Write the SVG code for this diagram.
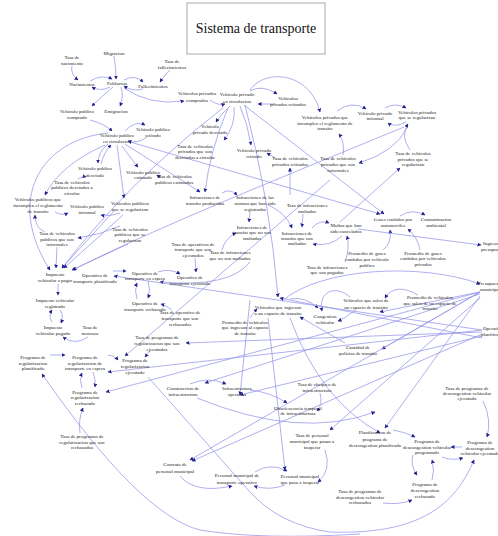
<svg xmlns="http://www.w3.org/2000/svg" width="498" height="536" viewBox="0 0 498 536">
<defs>
<marker id="ah" markerWidth="4" markerHeight="4" refX="3.5" refY="2" orient="auto" markerUnits="userSpaceOnUse">
<path d="M0,0 L4,2 L0,4 Z" fill="#23238f"/>
</marker>
<style>
.t{font-family:"Liberation Serif","Times New Roman",serif;font-size:5px;fill:#222;text-anchor:middle}
.s{text-anchor:start}
.c path{fill:none;stroke:#9494ea;stroke-width:0.75;marker-end:url(#ah)}
</style>
</defs>
<rect width="498" height="536" fill="#fff"/>

<!-- title -->
<g id="title">
<rect x="187" y="3" width="138" height="51" fill="#fff" stroke="#aaa" stroke-width="1"/>
<text x="256" y="33" style="font-family:'Liberation Serif','Times New Roman',serif;font-size:14px;fill:#111;text-anchor:middle">Sistema de transporte</text>
</g>

<!-- connectors -->
<g id="connectors" class="c">
<path d="M72,66 Q70,74 78,80"/>
<path d="M90,81 Q102,74 112,79"/>
<path d="M110,87 Q100,92 92,87"/>
<path d="M114,56 Q116,68 116,79"/>
<path d="M124,80 Q135,74 143,82"/>
<path d="M143,89 Q133,92 124,86"/>
<path d="M170,70 Q164,76 160,82"/>
<path d="M121,87 Q124,97 120,106"/>
<path d="M113,87 Q100,98 92,106"/>
<path d="M124,88 Q150,106 184,101"/>
<path d="M90,120 Q105,124 112,131"/>
<path d="M210,100 Q218,106 225,104"/>
<path d="M250,91 Q262,84 277,94"/>
<path d="M275,104 L258,104"/>
<path d="M250,90 C265,68 310,72 320,112"/>
<path d="M337,111 Q352,100 366,109"/>
<path d="M385,108 Q395,102 406,108"/>
<path d="M406,122 Q395,128 388,123"/>
<path d="M410,150 Q400,136 408,124"/>
<path d="M343,155 Q345,142 339,134"/>
<path d="M407,128 Q395,152 359,163"/>
<path d="M340,222 L400,168"/>
<path d="M275,158 L267,153"/>
<path d="M290,195 L290,168"/>
<path d="M230,106 Q222,113 216,122"/>
<path d="M240,106 Q248,125 251,145"/>
<path d="M234,107 Q236,125 224,140"/>
<path d="M228,108 Q210,150 205,192"/>
<path d="M245,105 Q270,200 278,297"/>
<path d="M244,105 L384,214"/>
<path d="M130,142 L380,214"/>
<path d="M223,108 Q130,180 62,268"/>
<path d="M404,127 C300,170 150,230 73,270"/>
<path d="M108,133 C40,140 5,200 50,270"/>
<path d="M125,131 Q135,120 145,125"/>
<path d="M147,137 Q138,144 128,141"/>
<path d="M108,144 Q98,152 98,163"/>
<path d="M101,164 Q104,152 111,145"/>
<path d="M78,179 Q82,176 86,177"/>
<path d="M105,145 Q60,165 45,195"/>
<path d="M125,144 L200,192"/>
<path d="M117,145 L124,198"/>
<path d="M122,146 Q132,160 138,167"/>
<path d="M160,177 L157,175"/>
<path d="M55,212 Q62,216 68,213"/>
<path d="M120,213 Q110,217 101,215"/>
<path d="M45,232 Q35,228 35,215"/>
<path d="M120,226 Q100,235 78,238"/>
<path d="M57,247 L56,268"/>
<path d="M113,212 L62,268"/>
<path d="M123,215 L64,268"/>
<path d="M128,244 L72,270"/>
<path d="M58,284 L58,295"/>
<path d="M52,322 Q48,316 52,310"/>
<path d="M60,310 Q64,316 61,323"/>
<path d="M88,337 Q75,346 63,337"/>
<path d="M113,271 L126,271"/>
<path d="M158,272 Q170,268 180,274"/>
<path d="M250,262 Q230,288 160,282"/>
<path d="M148,281 Q151,290 148,298"/>
<path d="M137,299 Q134,290 137,283"/>
<path d="M172,310 Q167,306 161,304"/>
<path d="M195,258 L196,272"/>
<path d="M222,193 Q230,188 237,195"/>
<path d="M250,212 L249,222"/>
<path d="M268,205 Q285,212 292,228"/>
<path d="M303,214 L302,227"/>
<path d="M312,228 Q320,219 329,223"/>
<path d="M345,262 Q350,248 347,236"/>
<path d="M342,236 Q330,247 313,244"/>
<path d="M222,250 Q225,238 236,233"/>
<path d="M400,216 Q412,208 425,215"/>
<path d="M383,250 Q392,243 390,230"/>
<path d="M420,250 Q418,238 408,229"/>
<path d="M358,229 L481,245"/>
<path d="M282,301 C320,268 420,262 480,284"/>
<path d="M290,299 Q305,296 318,308"/>
<path d="M350,297 C335,284 318,292 322,311"/>
<path d="M355,310 Q346,318 338,321"/>
<path d="M418,295 Q395,282 385,298"/>
<path d="M250,318 Q253,313 257,309"/>
<path d="M345,343 L300,317"/>
<path d="M480,292 L380,312"/>
<path d="M480,292 L382,349"/>
<path d="M480,294 L205,383"/>
<path d="M480,292 L190,460"/>
<path d="M482,334 L192,461"/>
<path d="M480,296 L385,428"/>
<path d="M480,292 L106,392"/>
<path d="M482,330 L108,372"/>
<path d="M482,330 L114,276"/>
<path d="M482,336 L240,395"/>
<path d="M482,332 L186,343"/>
<path d="M480,298 L330,430"/>
<path d="M482,338 L280,298"/>
<path d="M50,355 L65,355"/>
<path d="M108,355 Q114,355 118,360"/>
<path d="M93,372 Q96,380 95,387"/>
<path d="M82,388 Q79,380 82,373"/>
<path d="M80,433 Q78,420 83,408"/>
<path d="M150,351 L145,357"/>
<path d="M190,384 Q208,376 226,384"/>
<path d="M250,390 Q270,392 287,403"/>
<path d="M320,393 Q323,405 317,411"/>
<path d="M197,398 Q300,440 375,412"/>
<path d="M180,476 Q195,494 232,486"/>
<path d="M255,472 Q270,462 287,471"/>
<path d="M285,485 Q270,491 254,486"/>
<path d="M325,450 Q332,470 318,482"/>
<path d="M393,430 Q405,432 415,437"/>
<path d="M462,447 L451,447"/>
<path d="M442,457 Q452,461 463,458"/>
<path d="M413,455 Q410,465 417,475"/>
<path d="M432,480 Q435,470 432,460"/>
<path d="M383,503 Q400,505 412,500"/>
<path d="M483,401 Q492,420 487,437"/>
<path d="M148,377 L250,492 Q280,525 330,532 C420,535 455,505 474,460"/>
<path d="M360,534 Q260,540 200,530 Q140,515 42,374"/>
<path d="M250,300 L240,395"/>
<path d="M268,318 L285,470"/>
<path d="M290,318 Q320,400 380,433"/>
<path d="M330,180 L125,356"/>
</g>

<!-- nodes -->
<g id="tasa_nacimiento"><text class="t"><tspan x="72" y="59">Tasa de</tspan><tspan x="72" y="65">nacimiento</tspan></text></g>
<g id="migracion"><text class="t" x="114" y="55">Migracion</text></g>
<g id="nacimientos"><text class="t" x="82" y="86">Nacimientos</text></g>
<g id="poblacion"><text class="t" x="117" y="85">Poblacion</text></g>
<g id="fallecimientos"><text class="t" x="153" y="88">Fallecimientos</text></g>
<g id="tasa_fallecimientos"><text class="t"><tspan x="172" y="63">Tasa de</tspan><tspan x="172" y="69">fallecimientos</tspan></text></g>
<g id="emigracion"><text class="t" x="116" y="113">Emigracion</text></g>
<g id="vpub_comprado"><text class="t"><tspan x="77" y="113">Vehiculo publico</tspan><tspan x="77" y="119">comprado</tspan></text></g>
<g id="vpriv_comprados"><text class="t"><tspan x="197" y="95">Vehiculos privados</tspan><tspan x="197" y="102">comprados</tspan></text></g>
<g id="vpriv_circulacion"><text class="t"><tspan x="237" y="96">Vehiculo privado</tspan><tspan x="237" y="103">en circulacion</tspan></text></g>
<g id="vpriv_retirados"><text class="t"><tspan x="288" y="100">Vehiculos</tspan><tspan x="288" y="106">privados retirados</tspan></text></g>
<g id="vpriv_incumplen"><text class="t"><tspan x="325" y="119">Vehiculos privados que</tspan><tspan x="325" y="125">incumplen el reglamento de</tspan><tspan x="325" y="130">transito</tspan></text></g>
<g id="vpriv_informal"><text class="t"><tspan x="375" y="115">Vehiculo privado</tspan><tspan x="375" y="120">informal</tspan></text></g>
<g id="vpriv_regularizan"><text class="t"><tspan x="417" y="114">Vehiculos privados</tspan><tspan x="417" y="119">que se regularizan</tspan></text></g>
<g id="tasa_vpriv_regularizan"><text class="t"><tspan x="413" y="155">Tasa de vehiculos</tspan><tspan x="413" y="161">privados que se</tspan><tspan x="413" y="166">regularizan</tspan></text></g>
<g id="tasa_vpriv_informales"><text class="t"><tspan x="338" y="160">Tasa de vehiculos</tspan><tspan x="338" y="166">privados que son</tspan><tspan x="338" y="172">informales</tspan></text></g>
<g id="tasa_vpriv_retirados"><text class="t"><tspan x="290" y="160">Tasa de vehiculos</tspan><tspan x="290" y="166">privados retirados</tspan></text></g>
<g id="vpriv_retirado"><text class="t"><tspan x="254" y="152">Vehiculo privado</tspan><tspan x="254" y="158">retirado</tspan></text></g>
<g id="vpriv_desviado"><text class="t"><tspan x="210" y="128">Vehiculo</tspan><tspan x="210" y="134">privado desviado</tspan></text></g>
<g id="tasa_vpriv_desviados"><text class="t"><tspan x="195" y="148">Tasa de vehiculos</tspan><tspan x="195" y="153">privados que son</tspan><tspan x="195" y="159">desviados a circular</tspan></text></g>
<g id="vpub_retirado"><text class="t"><tspan x="153" y="131">Vehiculo publico</tspan><tspan x="153" y="137">retirado</tspan></text></g>
<g id="vpub_circulacion"><text class="t"><tspan x="117" y="137">Vehiculo publico</tspan><tspan x="117" y="143">en circulacion</tspan></text></g>
<g id="vpub_desviado"><text class="t"><tspan x="95" y="170">Vehiculo publico</tspan><tspan x="95" y="177">desviado</tspan></text></g>
<g id="tasa_vpub_desviados"><text class="t"><tspan x="72" y="184">Tasa de vehiculos</tspan><tspan x="72" y="189">publicos desviados a</tspan><tspan x="72" y="195">circular</tspan></text></g>
<g id="vpub_estimado"><text class="t"><tspan x="143" y="174">Vehiculo publico</tspan><tspan x="143" y="179">estimado</tspan></text></g>
<g id="tasa_vpub_estimados"><text class="t"><tspan x="174" y="178">Tasa de vehiculos</tspan><tspan x="174" y="184">publicos estimados</tspan></text></g>
<g id="vpub_incumplen"><text class="t"><tspan x="38" y="201">Vehiculos publicos que</tspan><tspan x="38" y="207">incumplen el reglamento</tspan><tspan x="38" y="213">de transito</tspan></text></g>
<g id="vpub_informal"><text class="t"><tspan x="87" y="208">Vehiculo publico</tspan><tspan x="87" y="214">informal</tspan></text></g>
<g id="vpub_regularizan"><text class="t"><tspan x="130" y="205">Vehiculos publicos</tspan><tspan x="130" y="211">que se regularizan</tspan></text></g>
<g id="tasa_vpub_informales"><text class="t"><tspan x="57" y="235">Tasa de vehiculos</tspan><tspan x="57" y="241">publicos que son</tspan><tspan x="57" y="246">informales</tspan></text></g>
<g id="tasa_vpub_regularizan"><text class="t"><tspan x="130" y="231">Tasa de vehiculos</tspan><tspan x="130" y="236">publicos que se</tspan><tspan x="130" y="242">regularizan</tspan></text></g>
<g id="infr_producidas"><text class="t"><tspan x="205" y="199">Infracciones de</tspan><tspan x="205" y="205">transito producidas</tspan></text></g>
<g id="infr_registradas"><text class="t"><tspan x="255" y="199">Infracciones de las</tspan><tspan x="255" y="205">normas que han sido</tspan><tspan x="255" y="211">registradas</tspan></text></g>
<g id="tasa_infr_multadas"><text class="t"><tspan x="307" y="207">Tasa de infracciones</tspan><tspan x="307" y="213">multadas</tspan></text></g>
<g id="infr_no_multadas"><text class="t"><tspan x="252" y="229">Infracciones de</tspan><tspan x="252" y="234">transito que no son</tspan><tspan x="252" y="240">multadas</tspan></text></g>
<g id="infr_multadas"><text class="t"><tspan x="297" y="235">Infracciones de</tspan><tspan x="297" y="240">transito que son</tspan><tspan x="297" y="245">multadas</tspan></text></g>
<g id="multas"><text class="t"><tspan x="346" y="227">Multas que han</tspan><tspan x="346" y="233">sido cancelados</tspan></text></g>
<g id="tasa_infr_no_multadas"><text class="t"><tspan x="230" y="254">Tasa de infracciones</tspan><tspan x="230" y="260">que no son multadas</tspan></text></g>
<g id="tasa_infr_pagadas"><text class="t"><tspan x="327" y="269">Tasa de infracciones</tspan><tspan x="327" y="274">que son pagadas</tspan></text></g>
<g id="gases"><text class="t"><tspan x="393" y="221">Gases emitidos por</tspan><tspan x="393" y="227">automoviles</tspan></text></g>
<g id="contaminacion"><text class="t"><tspan x="436" y="221">Contaminacion</tspan><tspan x="436" y="227">ambiental</tspan></text></g>
<g id="prom_gases_pub"><text class="t"><tspan x="367" y="255">Promedio de gases</tspan><tspan x="367" y="261">emitidos por vehiculo</tspan><tspan x="367" y="267">publico</tspan></text></g>
<g id="prom_gases_priv"><text class="t"><tspan x="423" y="255">Promedio de gases</tspan><tspan x="423" y="260">emitidos por vehiculos</tspan><tspan x="423" y="266">privados</tspan></text></g>
<g id="ingreso"><text class="t s"><tspan x="483" y="245">Ingreso</tspan><tspan x="481" y="251">presupuestal</tspan></text></g>
<g id="presupuesto"><text class="t s"><tspan x="478" y="285">Presupuesto</tspan><tspan x="480" y="291">municipal</tspan></text></g>
<g id="operativos"><text class="t s"><tspan x="483" y="330">Operativos</tspan><tspan x="481" y="336">planificados</tspan></text></g>
<g id="tasa_op_ejecutados"><text class="t"><tspan x="193" y="246">Tasa de operativos de</tspan><tspan x="193" y="251">transporte que son</tspan><tspan x="193" y="257">ejecutados</tspan></text></g>
<g id="op_ejecutado"><text class="t"><tspan x="190" y="279">Operativo de</tspan><tspan x="190" y="285">transporte ejecutado</tspan></text></g>
<g id="op_espera"><text class="t"><tspan x="145" y="275">Operativo de</tspan><tspan x="145" y="280">transporte en espera</tspan></text></g>
<g id="op_planificado"><text class="t"><tspan x="95" y="277">Operativo de</tspan><tspan x="95" y="283">transporte planificado</tspan></text></g>
<g id="op_rechazado"><text class="t"><tspan x="145" y="305">Operativo de</tspan><tspan x="145" y="311">transporte rechazado</tspan></text></g>
<g id="tasa_op_rechazados"><text class="t"><tspan x="180" y="314">Tasa de operativo de</tspan><tspan x="180" y="320">transporte que son</tspan><tspan x="180" y="326">rechazados</tspan></text></g>
<g id="imp_pagar"><text class="t"><tspan x="55" y="276">Impuesto</tspan><tspan x="55" y="282">vehicular a pagar</tspan></text></g>
<g id="imp_registrado"><text class="t"><tspan x="55" y="302">Impuesto vehicular</tspan><tspan x="55" y="308">registrado</tspan></text></g>
<g id="imp_pagado"><text class="t"><tspan x="53" y="329">Impuesto</tspan><tspan x="53" y="335">vehicular pagado</tspan></text></g>
<g id="tasa_morosos"><text class="t"><tspan x="90" y="329">Tasa de</tspan><tspan x="90" y="335">morosos</tspan></text></g>
<g id="prog_reg_planificado"><text class="t"><tspan x="33" y="359">Programa de</tspan><tspan x="33" y="365">regularizacion</tspan><tspan x="33" y="370">planificado</tspan></text></g>
<g id="prog_reg_espera"><text class="t"><tspan x="85" y="359">Programa de</tspan><tspan x="85" y="365">regularizacion de</tspan><tspan x="85" y="370">transporte en espera</tspan></text></g>
<g id="prog_reg_rechazado"><text class="t"><tspan x="85" y="394">Programa de</tspan><tspan x="85" y="399">regularizacion</tspan><tspan x="85" y="405">rechazado</tspan></text></g>
<g id="tasa_prog_reg_rechazados"><text class="t"><tspan x="82" y="438">Tasa de programas de</tspan><tspan x="82" y="444">regularizacion que son</tspan><tspan x="82" y="449">rechazados</tspan></text></g>
<g id="tasa_prog_reg_ejecutados"><text class="t"><tspan x="157" y="339">Tasa de programas de</tspan><tspan x="157" y="345">regularizacion que son</tspan><tspan x="157" y="351">ejecutados</tspan></text></g>
<g id="prog_reg_ejecutado"><text class="t"><tspan x="135" y="362">Programa de</tspan><tspan x="135" y="368">regularizacion</tspan><tspan x="135" y="374">ejecutado</tspan></text></g>
<g id="prom_v_ingresan"><text class="t"><tspan x="245" y="324">Promedio de vehiculos</tspan><tspan x="245" y="329">que ingresan al espacio</tspan><tspan x="245" y="335">de transito</tspan></text></g>
<g id="v_ingresan"><text class="t"><tspan x="278" y="309">Vehiculos que ingresan</tspan><tspan x="278" y="315">a un espacio de transito</tspan></text></g>
<g id="congestion"><text class="t"><tspan x="325" y="318">Congestion</tspan><tspan x="325" y="324">vehicular</tspan></text></g>
<g id="v_salen"><text class="t"><tspan x="366" y="302">Vehiculos que salen de</tspan><tspan x="366" y="309">un espacio de transito</tspan></text></g>
<g id="prom_v_salen"><text class="t"><tspan x="430" y="299">Promedio de vehiculos</tspan><tspan x="430" y="305">que salen de un espacio de</tspan><tspan x="430" y="310">transito</tspan></text></g>
<g id="policias"><text class="t"><tspan x="358" y="349">Cantidad de</tspan><tspan x="358" y="355">policias de transito</tspan></text></g>
<g id="construccion"><text class="t"><tspan x="183" y="390">Construccion de</tspan><tspan x="183" y="396">infraestructura</tspan></text></g>
<g id="infra_operativa"><text class="t"><tspan x="237" y="390">Infraestructura</tspan><tspan x="237" y="396">operativa</tspan></text></g>
<g id="tasa_chequeo"><text class="t"><tspan x="317" y="386">Tasa de chequeo de</tspan><tspan x="317" y="392">infraestructura</tspan></text></g>
<g id="obsolescencia"><text class="t"><tspan x="298" y="410">Obsolescencia temporal</tspan><tspan x="298" y="415">de infraestructura</tspan></text></g>
<g id="contrato"><text class="t"><tspan x="175" y="466">Contrato de</tspan><tspan x="175" y="473">personal municipal</tspan></text></g>
<g id="personal_operativo"><text class="t"><tspan x="237" y="477">Personal municipal de</tspan><tspan x="237" y="484">transporte operativo</tspan></text></g>
<g id="tasa_personal"><text class="t"><tspan x="312" y="437">Tasa de personal</tspan><tspan x="312" y="443">municipal que pasan a</tspan><tspan x="312" y="449">inoperar</tspan></text></g>
<g id="personal_inoperante"><text class="t"><tspan x="300" y="478">Personal municipal</tspan><tspan x="300" y="484">que pasa a inoperar</tspan></text></g>
<g id="planificacion"><text class="t"><tspan x="375" y="434">Planificacion de</tspan><tspan x="375" y="441">programa de</tspan><tspan x="375" y="447">descongestion planificada</tspan></text></g>
<g id="tasa_desc_rechazados"><text class="t"><tspan x="360" y="493">Tasa de programas de</tspan><tspan x="360" y="499">descongestion vehicular</tspan><tspan x="360" y="504">rechazados</tspan></text></g>
<g id="tasa_desc_ejecutado"><text class="t"><tspan x="467" y="390">Tasa de programas de</tspan><tspan x="467" y="395">descongestion vehicular</tspan><tspan x="467" y="400">ejecutado</tspan></text></g>
<g id="desc_programado"><text class="t"><tspan x="427" y="443">Programa de</tspan><tspan x="427" y="449">descongestion vehicular</tspan><tspan x="427" y="454">programado</tspan></text></g>
<g id="desc_ejecutado"><text class="t"><tspan x="480" y="444">Programa de</tspan><tspan x="480" y="450">descongestion</tspan><tspan x="480" y="455">vehicular ejecutado</tspan></text></g>
<g id="desc_rechazado"><text class="t"><tspan x="425" y="486">Programa de</tspan><tspan x="425" y="492">descongestion</tspan><tspan x="425" y="498">rechazado</tspan></text></g>
</svg>
